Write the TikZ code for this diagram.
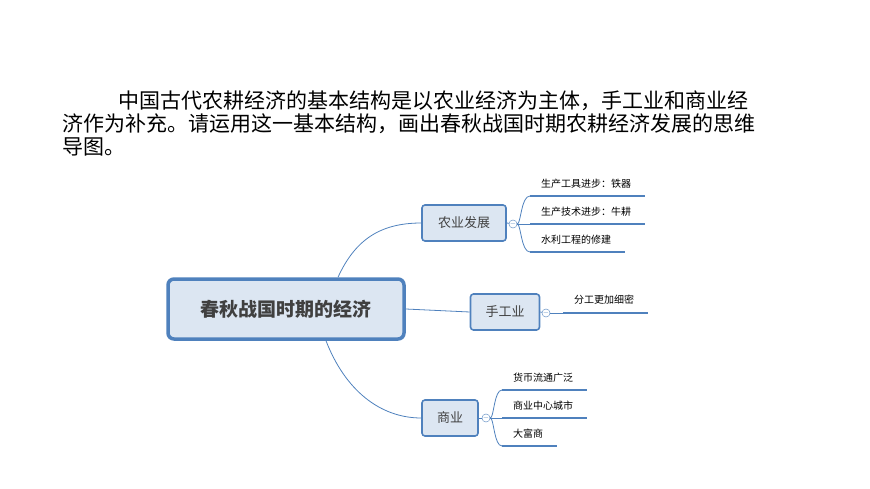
\documentclass[tikz,border=0pt]{standalone}
\usepackage{fontspec}
\setmainfont{Noto Sans CJK SC}
\usetikzlibrary{positioning}
\definecolor{edge}{HTML}{4F81BD}
\definecolor{boxfill}{HTML}{DCE6F2}
\definecolor{ink}{HTML}{404040}
\tikzset{
  topic/.style={draw=edge, fill=boxfill, rounded corners=3pt, line width=1.6pt, minimum width=84pt, minimum height=36pt, font=\fontsize{13}{13}\selectfont, text=ink},
  rootbox/.style={draw=edge, fill=boxfill, rounded corners=6pt, line width=3.5pt, minimum width=236pt, minimum height=60pt, font=\fontsize{19}{19}\selectfont\bfseries, text=ink},
  fold/.style={circle, draw=edge, fill=white, inner sep=0pt, minimum size=8pt, font=\fontsize{7}{7}\selectfont, text=edge},
  leaf/.style={anchor=west, font=\fontsize{10}{10}\selectfont, inner sep=0pt},
  leafline/.style={draw=edge, line width=2pt},
  branch/.style={draw=edge, line width=0.8pt}
}
\begin{document}
\begin{tikzpicture}[x=1pt,y=-1pt]
\useasboundingbox (0,0) rectangle (870,489);
% title
\node[anchor=west, inner sep=0pt, font=\fontsize{21}{21}\selectfont] (t1) at (118,101) {中国古代农耕经济的基本结构是以农业经济为主体，手工业和商业经};
\node[anchor=west, inner sep=0pt, font=\fontsize{21}{21}\selectfont] (t2) at (62,124) {济作为补充。请运用这一基本结构，画出春秋战国时期农耕经济发展的思维};
\node[anchor=west, inner sep=0pt, font=\fontsize{21}{21}\selectfont] (t3) at (62,147) {导图。};
% topics
\node[rootbox] (root) at (286,309) {春秋战国时期的经济};
\node[topic] (farm) at (464,223) {农业发展};
\node[topic, minimum width=69pt] (craft) at (505,312) {手工业};
\node[topic, minimum width=56pt] (trade) at (450,418) {商业};
\node[fold] (f1) at (513,224) {$-$};
\node[fold] (f2) at (546,313) {$-$};
\node[fold] (f3) at (486,418) {$-$};
\draw[branch] (root.north) ++(52,0) coordinate (r1) .. controls (355,240) and (380,223) .. (farm.west);
\draw[branch] (root.east) -- (craft.west);
\draw[branch] (root.south) ++(40,0) coordinate (r3) .. controls (345,390) and (380,418) .. (trade.west);
\draw[branch] (farm.east) -- (f1);
\draw[branch] (craft.east) -- (f2);
\draw[branch] (trade.east) -- (f3);
% farm leaves
\coordinate (a1) at (530,196); \coordinate (a2) at (530,224); \coordinate (a3) at (530,252);
\draw[leafline] (a1) -- ++(115,0); \draw[leafline] (a2) -- ++(115,0); \draw[leafline] (a3) -- ++(95,0);
\draw[branch] (f1.east) -- (a2);
\draw[branch] (a1) .. controls (521,196) and (521,224) .. (f1.east);
\draw[branch] (a3) .. controls (521,252) and (521,224) .. (f1.east);
\node[leaf] (l1) at (541,184) {生产工具进步：铁器};
\node[leaf] (l2) at (541,212) {生产技术进步：牛耕};
\node[leaf] (l3) at (541,240) {水利工程的修建};
% craft leaf
\coordinate (b1) at (563,313);
\draw[leafline] (b1) -- ++(85,0);
\draw[branch] (f2.east) -- (b1);
\node[leaf] (l4) at (574,300) {分工更加细密};
% trade leaves
\coordinate (c1) at (502,390); \coordinate (c2) at (502,418); \coordinate (c3) at (502,446);
\draw[leafline] (c1) -- ++(85,0); \draw[leafline] (c2) -- ++(85,0); \draw[leafline] (c3) -- ++(55,0);
\draw[branch] (f3.east) -- (c2);
\draw[branch] (c1) .. controls (494,390) and (494,418) .. (f3.east);
\draw[branch] (c3) .. controls (494,446) and (494,418) .. (f3.east);
\node[leaf] (l5) at (513,378) {货币流通广泛};
\node[leaf] (l6) at (513,406) {商业中心城市};
\node[leaf] (l7) at (513,434) {大富商};
\end{tikzpicture}
\end{document}
